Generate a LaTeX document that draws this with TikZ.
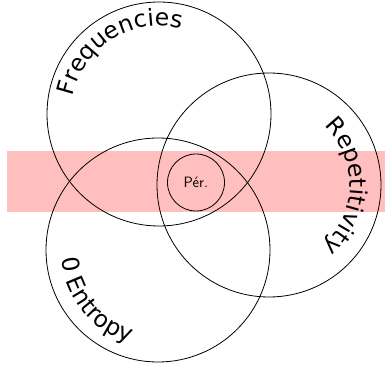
\documentclass[tikz,border=0pt]{standalone}
\usepackage{fontspec}
\newfontfamily\lblfont{DejaVu Sans}
\usetikzlibrary{decorations.text}

\begin{document}
\begin{tikzpicture}[x=1pt,y=1pt,
  set/.style={draw,circle,minimum size=224pt,inner sep=0pt,line width=0.8pt},
  per/.style={draw,circle,minimum size=57pt,inner sep=0pt,line width=0.8pt,font=\sffamily\fontsize{15}{18}\selectfont},
  arclabel/.style={decorate,decoration={text along path,text align=center,text={|\lblfont\fontsize{23.5}{28}\selectfont|#1}}}]
\useasboundingbox (0,0) rectangle (385,364);
% band behind the sets
\fill[red!25] (7,151.5) rectangle (385,212.5);
\node (freq) at (159,250) [set] {};
\node (rep)  at (269,179) [set] {};
\node (ent)  at (158,114) [set] {};
\node (per)  at (196,181.5) [per] {Pér.};
% labels on the sets
\path[arclabel=Frequencies] (freq.center) ++(177:88pt) arc[start angle=177,end angle=67,radius=88pt];
\path[arclabel=Repetitivity] (rep.center) ++(58:81pt) arc[start angle=58,end angle=-60,radius=81pt];
\path[arclabel={0{\ }Entropy}] (ent.center) ++(172:97pt) arc[start angle=172,end angle=266,radius=97pt];
\end{tikzpicture}
\end{document}
